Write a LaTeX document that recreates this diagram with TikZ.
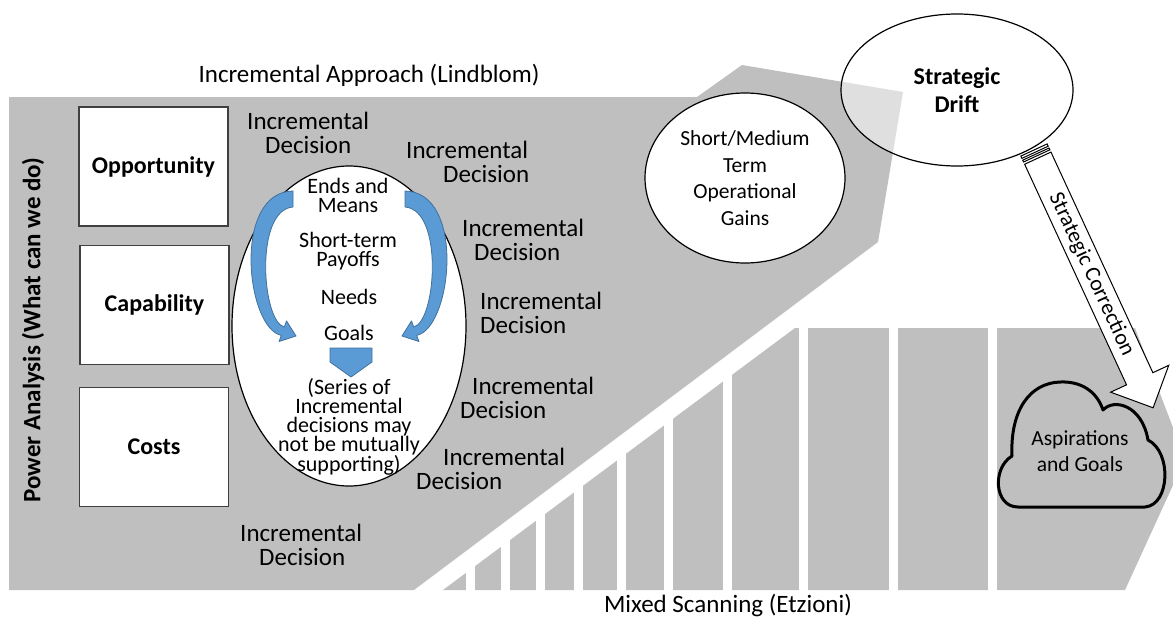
\documentclass[tikz,border=0pt]{standalone}
\usepackage{fontspec}
\setmainfont{Carlito}
\usetikzlibrary{shapes.geometric}

\definecolor{panelgray}{HTML}{BFBFBF}
\definecolor{cycleblue}{HTML}{5B9BD5}
\definecolor{cycleedge}{HTML}{41719C}
\definecolor{boxedge}{HTML}{404040}

\tikzset{
  decision/.style={font=\fontsize{25}{24}\selectfont, align=left, anchor=west, inner sep=0pt},
  factorbox/.style={draw=boxedge, fill=white, line width=1.5pt, minimum width=149pt, minimum height=119pt, inner sep=0pt, font=\bfseries\fontsize{24}{29}\selectfont},
  cycletext/.style={font=\fontsize{22}{19}\selectfont, align=center, inner sep=0pt},
  gainstext/.style={font=\fontsize{21.5}{26.5}\selectfont, align=center, inner sep=0pt},
  bluearrow/.style={fill=cycleblue, draw=cycleedge, line width=0.8pt, line join=round},
}

\begin{document}
\begin{tikzpicture}[x=1pt,y=-1pt]
  \useasboundingbox (0,0) rectangle (1173,618);
  %\draw[step=50,gray,very thin] (0,0) grid (1173,618);

  % mixed scanning area, split into columns
  \fill[panelgray] (443,590) -- (795,328) -- (1135,328) -- (1185,459) -- (1125,590) -- cycle;
  \fill[white] (465.5,320) rectangle (474.5,600);
  \fill[white] (500.5,320) rectangle (509.5,600);
  \fill[white] (535.5,320) rectangle (544.5,600);
  \fill[white] (573.5,320) rectangle (582.5,600);
  \fill[white] (616.5,320) rectangle (625.5,600);
  \fill[white] (663.5,320) rectangle (672.5,600);
  \fill[white] (722.5,320) rectangle (731.5,600);
  \fill[white] (798.5,320) rectangle (807.5,600);
  \fill[white] (888.5,320) rectangle (897.5,600);
  \fill[white] (987.5,320) rectangle (996.5,600);

  % incremental approach area
  \fill[panelgray] (9,97) -- (697,97) -- (742,65) -- (903,92) -- (878,242) -- (414,590) -- (9,590) -- cycle;

  \node[font=\fontsize{25}{30}\selectfont] (lindblom) at (369,75) {Incremental Approach (Lindblom)};
  \node[font=\fontsize{25}{30}\selectfont] (etzioni) at (728,605) {Mixed Scanning (Etzioni)};
  \node[rotate=90, font=\bfseries\fontsize{25}{30}\selectfont] (power) at (33,330) {Power Analysis (What can we do)};

  \node[factorbox] (opportunity) at (153.5,166.5) {Opportunity};
  \node[factorbox] (capability) at (154.5,305) {Capability};
  \node[factorbox] (costs) at (154,447) {Costs};

  % ellipse with the decision cycle
  \node[draw, ellipse, fill=white, line width=1.2pt, minimum width=234pt, minimum height=320pt] (series) at (349,326) {};
  \filldraw[bluearrow] (293,191) .. controls (232,192) and (246,328) .. (281.3,335.4) -- (279.1,341.5) -- (296,336)
    -- (286.5,320.9) -- (284.3,327) .. controls (262,322) and (254,210) .. (293,207) -- cycle;
  \filldraw[bluearrow] (405,191) .. controls (466,192) and (452,328) .. (416.7,335.4) -- (418.9,341.5) -- (402,336)
    -- (411.5,320.9) -- (413.7,327) .. controls (436,322) and (444,210) .. (405,207) -- cycle;
  \filldraw[bluearrow] (330,348) -- (372,348) -- (372,362) -- (351,377) -- (330,362) -- cycle;

  \node[cycletext] (ends) at (348,195) {Ends and\\Means};
  \node[cycletext] (payoffs) at (348,251) {Short-term\\Payoffs};
  \node[cycletext] (needs) at (349,297) {Needs};
  \node[cycletext] (goals) at (349,333) {Goals};
  \node[cycletext] (mutual) at (349,427) {(Series of\\Incremental\\decisions may\\not be mutually\\supporting)};

  \node[decision] (dec1) at (247,133) {Incremental\\\hspace*{18pt}Decision};
  \node[decision] (dec2) at (406,162) {Incremental\\\hspace*{37pt}Decision};
  \node[decision] (dec3) at (462,240) {Incremental\\\hspace*{12pt}Decision};
  \node[decision] (dec4) at (480,313) {Incremental\\Decision};
  \node[decision] (dec5) at (460,398) {\hspace*{12pt}Incremental\\Decision};
  \node[decision] (dec6) at (416,469) {\hspace*{27pt}Incremental\\Decision};
  \node[decision] (dec7) at (240,545) {Incremental\\\hspace*{19pt}Decision};

  \node[draw, ellipse, fill=white, line width=1.2pt, minimum width=200pt, minimum height=170pt, gainstext] (gains) at (745,178) {Short/Medium\\Term\\Operational\\Gains};
  \node[draw, ellipse, fill=white, fill opacity=0.5, text opacity=1, line width=1.2pt, minimum width=232pt, minimum height=152pt, align=center, font=\bfseries\fontsize{24}{28}\selectfont] (drift) at (957,90) {Strategic\\Drift};

  % strategic correction (striped block arrow)
  \begin{scope}[shift={(1034,150)}, rotate=-65.2]
    \filldraw[fill=white, draw=black, line width=1pt] (0,-14.5) rectangle (2.5,14.5);
    \filldraw[fill=white, draw=black, line width=1pt] (4.5,-14.5) rectangle (6.5,14.5);
    \filldraw[fill=white, draw=black, line width=1pt, line join=miter] (9,-14.5) -- (252,-14.5) -- (252,-32) -- (284,0)
      -- (252,32) -- (252,14.5) -- (9,14.5) -- cycle;
    \node[rotate=-65.2, font=\fontsize{22}{26}\selectfont] (correction) at (137,0) {Strategic Correction};
  \end{scope}

  % aspirations cloud
  \draw[line width=3pt, line join=round] (1018,507) .. controls (994,507) and (992,468) .. (1012,456)
    .. controls (1010,410) and (1030,383) .. (1060,382) .. controls (1085,381) and (1098,395) .. (1103,410)
    .. controls (1114,398) and (1142,405) .. (1148,440) .. controls (1172,452) and (1170,505) .. (1145,507) -- cycle;
  \node[gainstext, font=\fontsize{21.5}{26}\selectfont] (aspirations) at (1080,451) {Aspirations\\and Goals};
\end{tikzpicture}
\end{document}
